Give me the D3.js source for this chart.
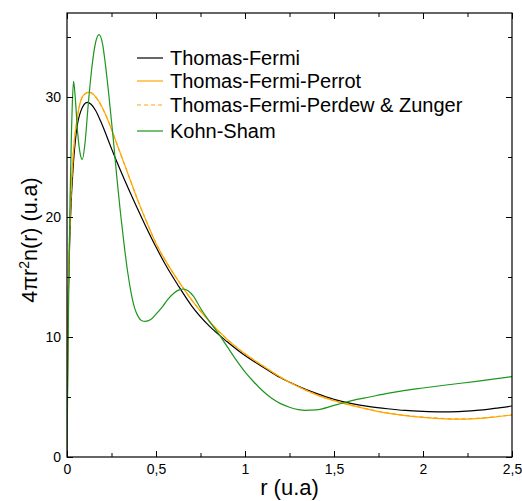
<!DOCTYPE html>
<html>
<head>
<meta charset="utf-8">
<script src="https://cdn.jsdelivr.net/npm/d3@7"></script>
<style>
  html, body { margin: 0; padding: 0; background: #fff; }
  svg text { font-family: "Liberation Sans", Arial, sans-serif; fill: #000; }
</style>
</head>
<body>
<svg id="chart" width="522" height="501"></svg>
<script>
// ---- data (r in u.a, 4πr²n(r) in u.a) ----
const thomasFermi = [
  [0,0],[0.005,11],[0.01,15],[0.02,20],[0.035,24.3],[0.05,26.8],[0.077,28.8],
  [0.114,29.55],[0.135,29.4],[0.16,28.9],[0.19,27.95],[0.22,26.85],[0.25,25.7],
  [0.28,24.6],[0.32,23.2],[0.38,21.2],[0.44,19.3],[0.5,17.5],[0.56,15.85],
  [0.62,14.4],[0.7,12.6],[0.8,10.9],[0.9,9.6],[1.0,8.45],[1.1,7.5],[1.2,6.6],
  [1.3,5.9],[1.4,5.3],[1.5,4.8],[1.6,4.45],[1.7,4.2],[1.8,4.02],[1.9,3.88],
  [2.0,3.8],[2.1,3.76],[2.2,3.78],[2.3,3.88],[2.4,4.05],[2.5,4.25]
];
const thomasFermiPerrot = [
  [0,0],[0.005,11.5],[0.01,15.8],[0.02,21],[0.035,25.2],[0.058,28.3],[0.09,30.1],
  [0.125,30.4],[0.15,30.2],[0.18,29.6],[0.21,28.75],[0.24,27.7],[0.27,26.5],
  [0.3,25.3],[0.35,23.3],[0.4,21.3],[0.45,19.5],[0.5,17.8],[0.56,16.2],
  [0.62,14.8],[0.7,13.1],[0.8,11.3],[0.9,9.8],[1.0,8.6],[1.1,7.6],[1.2,6.65],
  [1.3,5.85],[1.4,5.2],[1.5,4.7],[1.6,4.3],[1.7,3.95],[1.8,3.65],[1.9,3.45],
  [2.0,3.3],[2.1,3.2],[2.2,3.15],[2.3,3.2],[2.4,3.33],[2.5,3.5]
];
const thomasFermiPerdewZunger = [
  [0,0],[0.005,11.5],[0.01,15.8],[0.02,21],[0.035,25.2],[0.058,28.3],[0.09,30.1],
  [0.125,30.4],[0.15,30.2],[0.18,29.6],[0.21,28.75],[0.24,27.7],[0.27,26.5],
  [0.3,25.3],[0.35,23.3],[0.4,21.3],[0.45,19.5],[0.5,17.8],[0.56,16.2],
  [0.62,14.8],[0.7,13.1],[0.8,11.3],[0.9,9.8],[1.0,8.6],[1.1,7.6],[1.2,6.65],
  [1.3,5.85],[1.4,5.2],[1.5,4.7],[1.6,4.3],[1.7,3.96],[1.8,3.67],[1.9,3.47],
  [2.0,3.32],[2.1,3.22],[2.2,3.17],[2.3,3.22],[2.4,3.35],[2.5,3.52]
];
const kohnSham = [
  [0,0],[0.005,8],[0.01,14],[0.017,21.4],[0.025,27],[0.03,29.5],[0.037,31.3],
  [0.045,30.2],[0.06,27],[0.075,25.2],[0.086,24.8],[0.1,26],[0.12,29.5],
  [0.14,32.5],[0.16,34.5],[0.18,35.2],[0.2,34.4],[0.215,32.8],[0.232,30.6],
  [0.26,26.5],[0.28,23.3],[0.3,20.4],[0.32,17.8],[0.34,15.5],[0.36,13.7],
  [0.38,12.4],[0.4,11.7],[0.42,11.35],[0.44,11.3],[0.47,11.45],[0.5,11.9],
  [0.54,12.6],[0.57,13.2],[0.6,13.65],[0.63,13.93],[0.654,14.0],[0.68,13.85],
  [0.71,13.4],[0.75,12.4],[0.8,11.3],[0.85,10.3],[0.9,9.2],[0.95,8.1],[1.0,7.1],
  [1.05,6.25],[1.1,5.5],[1.15,4.9],[1.2,4.45],[1.25,4.15],[1.3,3.95],[1.337,3.88],
  [1.4,3.92],[1.5,4.3],[1.6,4.7],[1.7,5.0],[1.8,5.3],[1.9,5.55],[2.0,5.75],
  [2.13,6.0],[2.3,6.3],[2.5,6.7]
];

const seriesNames = ["Thomas-Fermi", "Thomas-Fermi-Perrot", "Thomas-Fermi-Perdew & Zunger", "Kohn-Sham"];
const seriesColors = ["#000000", "#FFA500", "#FFA500", "#1c961c"];
const seriesDash = [null, null, "4,3", null];
const seriesData = [thomasFermi, thomasFermiPerrot, thomasFermiPerdewZunger, kohnSham];

const xMajor = [0, 0.5, 1, 1.5, 2, 2.5];
const xMajorLabels = ["0", "0,5", "1", "1,5", "2", "2,5"];
const xMinor = [0.25, 0.75, 1.25, 1.75, 2.25];
const yMajor = [0, 10, 20, 30];
const yMajorLabels = ["0", "10", "20", "30"];
const yMinor = [5, 15, 25, 35];

// ---- layout ----
const svg = d3.select("#chart");
const L = 67, R = 512, T = 13, B = 457;
const x = d3.scaleLinear().domain([0, 2.5]).range([L, R]);
const y = d3.scaleLinear().domain([0, 37]).range([B, T]);

svg.append("defs").append("clipPath").attr("id", "clip")
  .append("rect").attr("x", L).attr("y", T).attr("width", R - L).attr("height", B - T);

// lines
const line = d3.line().x(d => x(d[0])).y(d => y(d[1])).curve(d3.curveMonotoneX);
const plot = svg.append("g").attr("clip-path", "url(#clip)");
seriesData.forEach((s, i) => {
  plot.append("path")
    .attr("d", line(s))
    .attr("fill", "none")
    .attr("stroke", seriesColors[i])
    .attr("stroke-width", 1.2)
    .attr("stroke-dasharray", seriesDash[i]);
});

// axes
function styleAxis(g) {
  g.select(".domain").remove();
  g.selectAll(".tick line").attr("stroke", "#000").attr("stroke-width", 1);
  g.selectAll(".tick text").style("font-size", "14px").attr("fill", "#000");
}
const fmtX = d => xMajorLabels[xMajor.indexOf(d)];
const fmtY = d => yMajorLabels[yMajor.indexOf(d)];

svg.append("g").attr("transform", `translate(0,${B})`)
  .call(d3.axisBottom(x).tickValues(xMajor).tickFormat(fmtX).tickSizeInner(-6).tickSizeOuter(0).tickPadding(7))
  .call(styleAxis);
svg.append("g").attr("transform", `translate(0,${B})`)
  .call(d3.axisBottom(x).tickValues(xMinor).tickFormat("").tickSizeInner(-4).tickSizeOuter(0))
  .call(styleAxis);
svg.append("g").attr("transform", `translate(0,${T})`)
  .call(d3.axisTop(x).tickValues(xMajor).tickFormat("").tickSizeInner(-6).tickSizeOuter(0))
  .call(styleAxis);
svg.append("g").attr("transform", `translate(0,${T})`)
  .call(d3.axisTop(x).tickValues(xMinor).tickFormat("").tickSizeInner(-4).tickSizeOuter(0))
  .call(styleAxis);

svg.append("g").attr("transform", `translate(${L},0)`)
  .call(d3.axisLeft(y).tickValues(yMajor).tickFormat(fmtY).tickSizeInner(-6).tickSizeOuter(0).tickPadding(6))
  .call(styleAxis);
svg.append("g").attr("transform", `translate(${L},0)`)
  .call(d3.axisLeft(y).tickValues(yMinor).tickFormat("").tickSizeInner(-4).tickSizeOuter(0))
  .call(styleAxis);
svg.append("g").attr("transform", `translate(${R},0)`)
  .call(d3.axisRight(y).tickValues(yMajor).tickFormat("").tickSizeInner(-6).tickSizeOuter(0))
  .call(styleAxis);
svg.append("g").attr("transform", `translate(${R},0)`)
  .call(d3.axisRight(y).tickValues(yMinor).tickFormat("").tickSizeInner(-4).tickSizeOuter(0))
  .call(styleAxis);

// frame
svg.append("rect").attr("x", L).attr("y", T).attr("width", R - L).attr("height", B - T)
  .attr("fill", "none").attr("stroke", "#000").attr("stroke-width", 1.2);

// axis titles
svg.append("text").attr("x", (L + R) / 2).attr("y", 495)
  .attr("text-anchor", "middle").style("font-size", "22px").text("r (u.a)");

const yt = svg.append("text")
  .attr("transform", `translate(36.5,240) rotate(-90)`)
  .attr("text-anchor", "middle").style("font-size", "21.5px");
yt.append("tspan").text("4πr");
yt.append("tspan").attr("dy", -8).style("font-size", "14px").text("2");
yt.append("tspan").attr("dy", 8).text("n(r) (u.a)");

// legend
const legendY = [58, 81, 105, 131];
const lg = svg.append("g");
seriesNames.forEach((name, i) => {
  lg.append("line").attr("x1", 137).attr("x2", 163)
    .attr("y1", legendY[i]).attr("y2", legendY[i])
    .attr("stroke", seriesColors[i]).attr("stroke-width", 1.2)
    .attr("stroke-dasharray", seriesDash[i]);
  lg.append("text").attr("x", 170).attr("y", legendY[i] + 7)
    .style("font-size", "20px").text(name);
});
</script>
</body>
</html>
